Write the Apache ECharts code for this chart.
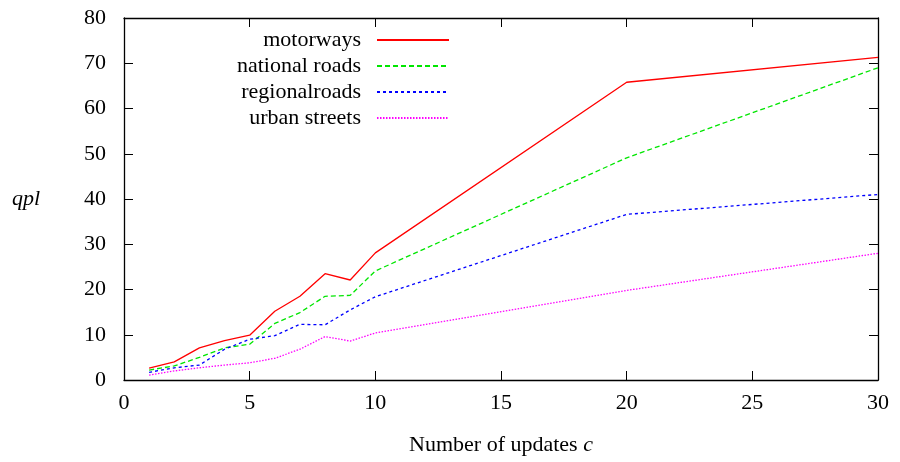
<!DOCTYPE html>
<html>
<head>
<meta charset="utf-8">
<script src="https://cdn.jsdelivr.net/npm/echarts@6/dist/echarts.min.js"></script>
<style>
  html, body { margin: 0; padding: 0; background: #fff; }
  #chart { width: 900px; height: 462px; }
</style>
</head>
<body>
<div id="chart"></div>
<script>
// number of updates c
const updates = [1, 2, 3, 4, 5, 6, 7, 8, 9, 10, 20, 30]
// qpl per road type
const motorways = [2.6, 4.0, 7.1, 8.7, 9.9, 15.2, 18.5, 23.5, 22.1, 28.1, 65.8, 71.3]
const nationalRoads = [2.2, 3.1, 5.0, 7.1, 7.9, 12.5, 14.9, 18.5, 18.7, 24.1, 49.1, 69.0]
const regionalRoads = [1.7, 2.7, 3.3, 6.8, 9.0, 9.8, 12.3, 12.2, 15.5, 18.4, 36.6, 41.0]
const urbanStreets = [1.1, 2.0, 2.7, 3.3, 3.8, 4.8, 6.8, 9.6, 8.6, 10.4, 19.8, 28.0]

const seriesNames = ['motorways', 'national roads', 'regionalroads', 'urban streets']

const font = '"Liberation Serif", "DejaVu Serif", serif'

function pairs (ys) {
  return updates.map((x, i) => [x, ys[i]])
}

function frameAxis (extra) {
  return Object.assign({
    type: 'value',
    axisLine: { show: true, onZero: false, lineStyle: { color: '#000', width: 1.3 } },
    axisTick: { show: true, inside: true, length: 9, lineStyle: { color: '#000', width: 1 } },
    splitLine: { show: false },
    axisLabel: { show: false }
  }, extra)
}

const chart = echarts.init(document.getElementById('chart'))

chart.setOption({
  animation: false,
  textStyle: { fontFamily: font },
  grid: {
    left: 124,
    right: 22,
    top: 18,
    bottom: 82
  },
  legend: {
    data: seriesNames,
    orient: 'vertical',
    align: 'right',
    right: 450,
    top: 29,
    padding: 0,
    itemWidth: 72,
    itemHeight: 14,
    itemGap: 4,
    itemStyle: { opacity: 0 },
    textStyle: { fontFamily: font, fontSize: 22, color: '#000', lineHeight: 22, padding: [0, 11, 0, 0] }
  },
  xAxis: [
    frameAxis({
      min: 0,
      max: 30,
      interval: 5,
      position: 'bottom',
      axisLabel: { show: true, color: '#000', fontFamily: font, fontSize: 22, margin: 12 },
      name: '{n|Number of updates }{i|c}',
      nameLocation: 'middle',
      nameGap: 54,
      nameTextStyle: {
        rich: {
          n: { fontFamily: font, fontSize: 22, color: '#000' },
          i: { fontFamily: font, fontSize: 22, color: '#000', fontStyle: 'italic' }
        }
      }
    }),
    frameAxis({ min: 0, max: 30, interval: 5, position: 'top' })
  ],
  yAxis: [
    frameAxis({
      min: 0,
      max: 80,
      interval: 10,
      position: 'left',
      axisLabel: { show: true, color: '#000', fontFamily: font, fontSize: 22, margin: 18 },
      name: 'qpl',
      nameLocation: 'middle',
      nameRotate: 0,
      nameGap: 84,
      nameTextStyle: { fontFamily: font, fontSize: 22, color: '#000', fontStyle: 'italic' }
    }),
    frameAxis({ min: 0, max: 80, interval: 10, position: 'right' })
  ],
  series: [
    {
      name: 'motorways',
      type: 'line',
      data: pairs(motorways),
      symbol: 'none',
      color: '#ff0000',
      lineStyle: { color: '#ff0000', width: 1.3, type: 'solid' }
    },
    {
      name: 'national roads',
      type: 'line',
      data: pairs(nationalRoads),
      symbol: 'none',
      color: '#00e600',
      lineStyle: { color: '#00e600', width: 1.3, type: [5, 3] }
    },
    {
      name: 'regionalroads',
      type: 'line',
      data: pairs(regionalRoads),
      symbol: 'none',
      color: '#0000ff',
      lineStyle: { color: '#0000ff', width: 1.3, type: [3, 3] }
    },
    {
      name: 'urban streets',
      type: 'line',
      data: pairs(urbanStreets),
      symbol: 'none',
      color: '#ff00ff',
      lineStyle: { color: '#ff00ff', width: 1.3, type: [1.5, 1.5] }
    }
  ]
})
</script>
</body>
</html>
